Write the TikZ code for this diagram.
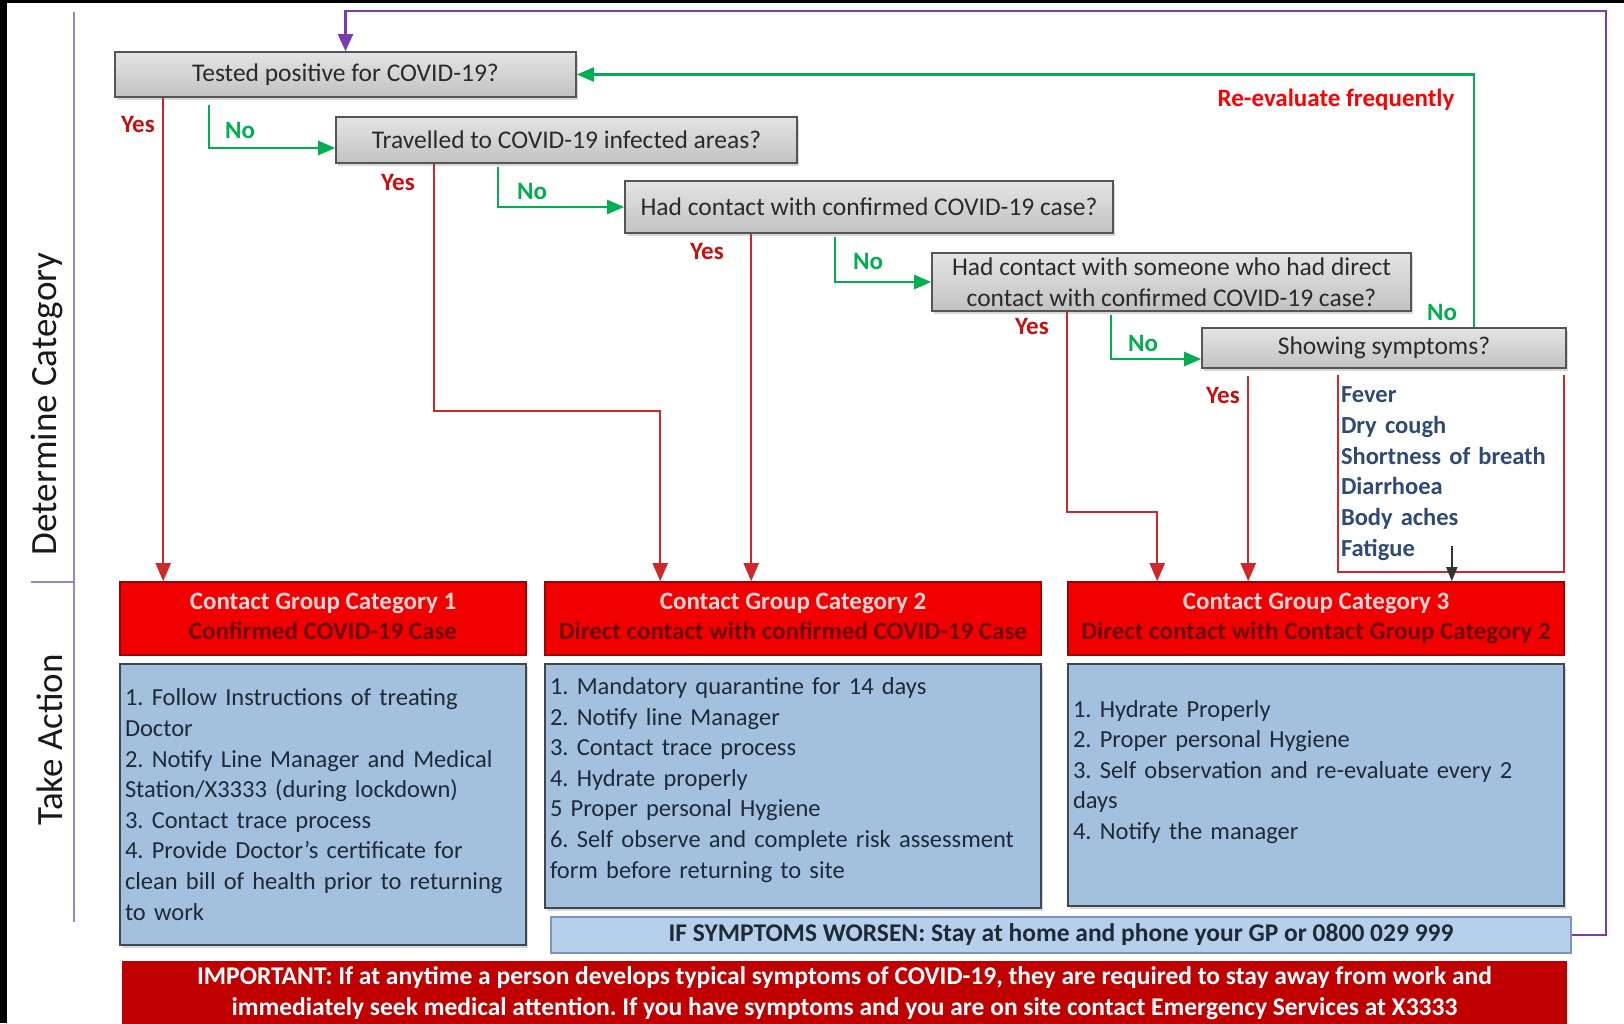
\documentclass[tikz,border=0pt]{standalone}
\usepackage{fontspec}
\setmainfont{Carlito}
\usepackage{xcolor}
\usepackage{tikz}
\usetikzlibrary{positioning}
\usetikzlibrary{calc}
\usetikzlibrary{arrows.meta}
\usetikzlibrary{shadows}
\frenchspacing

\begin{document}
\begin{tikzpicture}
    [%%%%%%%%%%%%%%%%%%%%%%%%%%%%%%
        x=1pt, y=1pt,
        question/.style={rectangle,draw=qborder,line width=1.6pt,top color=qtop,bottom color=qbottom,
            text=qtext,inner xsep=2pt,inner ysep=1pt,font=\fontsize{25.5}{31}\selectfont,
            drop shadow={shadow xshift=2pt,shadow yshift=-3pt,opacity=0.3}},
        header/.style={rectangle,draw=hdborder,line width=1.6pt,fill=hdred,minimum height=73pt,
            inner ysep=1pt,align=center,font=\bfseries\fontsize{25}{30}\selectfont},
        action/.style={rectangle,draw=acborder,line width=1.6pt,fill=acblue,inner xsep=5pt,
            align=left,text=actext,font=\fontsize{24.5}{30.6}\selectfont,
            drop shadow={shadow xshift=2pt,shadow yshift=-3pt,opacity=0.3}},
        symlist/.style={rectangle,inner xsep=3pt,align=left,text=symblue,
            font=\bfseries\fontsize{24.5}{30.7}\selectfont},
        worsen/.style={rectangle,draw=wsborder,line width=1.4pt,fill=wsblue,text=actext,
            font=\bfseries\fontsize{25.5}{30}\selectfont},
        important/.style={rectangle,fill=impred,text=white,align=center,
            font=\bfseries\fontsize{25.5}{31}\selectfont},
        sidelabel/.style={text=black!90,font=\fontsize{37}{40}\selectfont},
        yeslabel/.style={text=lbred,font=\bfseries\fontsize{25}{28}\selectfont},
        nolabel/.style={text=gogreen,font=\bfseries\fontsize{25}{28}\selectfont},
        nogo/.style={draw=gogreen,line width=2.4pt,-{Triangle[length=17pt,width=14pt]}},
        yesline/.style={draw=lnred,line width=2pt,-{Triangle[length=18pt,width=15pt]}},
        backline/.style={draw=backpurple,line width=2.4pt,-{Triangle[length=17pt,width=15pt]}}
    ]%%%%%%%%%%%%%%%%%%%%%%%%%%%%%%
\definecolor{qtop}{HTML}{E4E4E4}
\definecolor{qbottom}{HTML}{C2C2C2}
\definecolor{qborder}{HTML}{555555}
\definecolor{qtext}{HTML}{2A2A2A}
\definecolor{hdred}{HTML}{F00000}
\definecolor{hdborder}{HTML}{A00000}
\definecolor{hdtop}{HTML}{FFD6D6}
\definecolor{hdsub}{HTML}{6A0000}
\definecolor{acblue}{HTML}{A3C1DF}
\definecolor{acborder}{HTML}{3E4852}
\definecolor{actext}{HTML}{1E2A38}
\definecolor{wsblue}{HTML}{B6CFEA}
\definecolor{wsborder}{HTML}{7A96BE}
\definecolor{impred}{HTML}{C00000}
\definecolor{symblue}{HTML}{2F4A74}
\definecolor{gogreen}{HTML}{00B050}
\definecolor{lnred}{HTML}{D02828}
\definecolor{lbred}{HTML}{C81010}
\definecolor{backpurple}{HTML}{7A3DB0}
\definecolor{sidepurple}{HTML}{9A86C4}

% page, frame
\fill[white] (0,0) rectangle (1624,-1023);
\useasboundingbox (0,0) rectangle (1624,-1023);
\fill[black] (0,0) rectangle (7,-1023);
\fill[black] (0,0) rectangle (1624,-3);

% side labels
\draw[sidepurple,line width=1.6pt] (74,-12) -- (74,-922);
\draw[sidepurple,line width=1.6pt] (31,-582) -- (74,-582);
\node[sidelabel,rotate=90] (determine) at (47,-404) {Determine Category};
\node[sidelabel,rotate=90] (takeaction) at (50,-740) {Take Action};

% questions
\node[question,minimum width=461pt,minimum height=45pt] (tested) at (345.5,-74.5) {Tested positive for COVID-19?};
\node[question,minimum width=461pt,minimum height=46pt] (travel) at (566.5,-140) {Travelled to COVID-19 infected areas?};
\node[question,minimum width=488pt,minimum height=52pt] (contact) at (869,-207) {Had contact with confirmed COVID-19 case?};
\node[question,minimum width=479pt,minimum height=58pt,align=center] (indirect) at (1171.5,-282)
    {Had contact with someone who had direct\\contact with confirmed COVID-19 case?};
\node[question,minimum width=364pt,minimum height=40pt] (symptoms) at (1384,-348) {Showing symptoms?};

% categories
\node[header,minimum width=406pt] (cat1) at (323,-618.5)
    {\textcolor{hdtop}{Contact Group Category 1\strut}\\\textcolor{hdsub}{Confirmed COVID-19 Case\strut}};
\node[header,minimum width=496pt] (cat2) at (793,-618.5)
    {\textcolor{hdtop}{Contact Group Category 2\strut}\\\textcolor{hdsub}{Direct contact with confirmed COVID-19 Case\strut}};
\node[header,minimum width=496pt] (cat3) at (1316,-618.5)
    {\textcolor{hdtop}{Contact Group Category 3\strut}\\\textcolor{hdsub}{Direct contact with Contact Group Category 2\strut}};

\node[action,text width=396pt,minimum height=281pt] (do1) at (323,-804.5)
    {1. Follow Instructions of treating\\Doctor\\2. Notify Line Manager and Medical\\Station/X3333 (during lockdown)\\3. Contact trace process\\4. Provide Doctor’s certificate for\\clean bill of health prior to returning\\to work};
\node[action,text width=486pt,minimum height=244pt] (do2) at (793,-786)
    {1. Mandatory quarantine for 14 days\\2. Notify line Manager\\3. Contact trace process\\4. Hydrate properly\\5 Proper personal Hygiene\\6. Self observe and complete risk assessment\\form before returning to site\\[-14pt]\mbox{}};
\node[action,text width=486pt,minimum height=242pt] (do3) at (1316,-785)
    {1. Hydrate Properly\\2. Proper personal Hygiene\\3. Self observation and re-evaluate every 2\\days\\4. Notify the manager\\ \mbox{}};

\node[worsen,minimum width=1020pt,minimum height=36pt] (worse) at (1061,-935)
    {IF SYMPTOMS WORSEN: Stay at home and phone your GP or 0800 029 999};
\node[important,minimum width=1445pt,minimum height=64pt] (important) at (844.5,-993)
    {IMPORTANT: If at anytime a person develops typical symptoms of COVID-19, they are required to stay away from work and\\immediately seek medical attention. If you have symptoms and you are on site contact Emergency Services at X3333};

% symptoms list
\node[symlist,minimum width=226pt,minimum height=197pt,text width=220pt] (signs) at (1451,-473.5)
    {Fever\\Dry cough\\Shortness of breath\\Diarrhoea\\Body aches\\Fatigue};
\draw[lnred,line width=2pt] (signs.north west) |- (signs.south east) -- (signs.north east);

% no branches
\draw[nogo] ([shift={(95pt,-7pt)}]tested.south west) |- ([yshift=-8pt]travel.west);
\draw[nogo] ([shift={(163pt,-3pt)}]travel.south west) |- (contact.west);
\draw[nogo] ([shift={(211pt,-3pt)}]contact.south west) |- (indirect.west);
\draw[nogo] ([shift={(180pt,-3pt)}]indirect.south west) |- ([yshift=-11pt]symptoms.west);
\draw[nogo] ([xshift=90pt]symptoms.north) |- (tested.east);

% yes branches
\draw[yesline] ([xshift=49pt]tested.south west) -- ([xshift=49pt]tested.south west |- cat1.north);
\draw[yesline] ([xshift=99pt]travel.south west) -- ++(0,-247) -| ([xshift=116pt]cat2.north west);
\draw[yesline] ([xshift=127pt]contact.south west) -- ([xshift=127pt]contact.south west |- cat2.north);
\draw[yesline] ([xshift=136pt]indirect.south west) -- ++(0,-200) -| ([xshift=90pt]cat3.north west);
\draw[yesline] ([shift={(47pt,-7pt)}]symptoms.south west) -- ([xshift=47pt]symptoms.south west |- cat3.north);
\draw[black!80,line width=1.6pt,-{Triangle[length=14pt,width=11pt]}] ([shift={(114pt,26pt)}]signs.south west) -- ([xshift=114pt]signs.south west |- cat3.north);

% back to start
\draw[backline] (worse.east) -| ++(34,924) -| (tested.north);

% labels
\node[yeslabel] (yes1) at (138,-124) {Yes};
\node[nolabel] (no1) at (240,-130) {No};
\node[yeslabel] (yes2) at (398,-182) {Yes};
\node[nolabel] (no2) at (532,-191) {No};
\node[yeslabel] (yes3) at (707,-251) {Yes};
\node[nolabel] (no3) at (868,-261) {No};
\node[yeslabel] (yes4) at (1032,-326) {Yes};
\node[nolabel] (no4) at (1143,-343) {No};
\node[yeslabel] (yes5) at (1223,-395) {Yes};
\node[nolabel] (no5) at (1442,-312) {No};
\node[yeslabel,text=red] (reeval) at (1336,-100) {Re-evaluate frequently};

\end{tikzpicture}
\end{document}
